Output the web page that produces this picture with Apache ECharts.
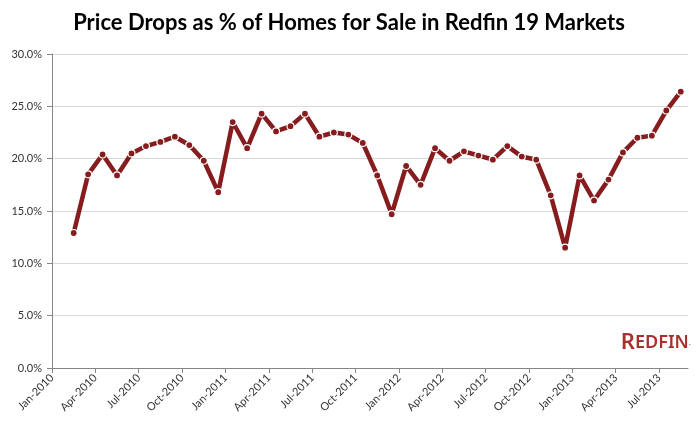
<!DOCTYPE html>
<html><head><meta charset="utf-8">
<script src="https://cdn.jsdelivr.net/npm/echarts@6/dist/echarts.min.js"></script>
<style>html,body{margin:0;padding:0;background:#fff}#c{width:698px;height:431px}</style>
</head><body><div id="c"></div>
<script>
// Monthly categories Jan-2010 .. Aug-2013 (first month has no data)
const months = ['Jan','Feb','Mar','Apr','May','Jun','Jul','Aug','Sep','Oct','Nov','Dec'];
const categories = [];
for (let y = 2010; y <= 2013; y++) for (let m = 0; m < 12; m++) {
  if (y === 2013 && m > 7) break;
  categories.push(months[m] + '-' + y);
}
// Price drops as share of homes for sale (%), Jan-2010 .. Aug-2013
const priceDrops = [null,
  12.9, 18.5, 20.4, 18.4, 20.5, 21.2, 21.6, 22.1, 21.3, 19.8, 16.8,
  23.5, 21.0, 24.3, 22.6, 23.1, 24.3, 22.1, 22.5, 22.3, 21.5, 18.4, 14.7,
  19.3, 17.5, 21.0, 19.8, 20.7, 20.3, 19.9, 21.2, 20.2, 19.9, 16.5, 11.5,
  18.4, 16.0, 18.0, 20.6, 22.0, 22.2, 24.6, 26.4];
const yTicks = [0, 5, 10, 15, 20, 25, 30];

const chart = echarts.init(document.getElementById('c'));
const data = [];
priceDrops.forEach((v, i) => { if (v !== null) data.push([i + 0.5, v]); });

chart.setOption({
  animation: false,
  title: {
    text: 'Price Drops as % of Homes for Sale in Redfin 19 Markets',
    left: 'center', top: 7,
    textStyle: { fontFamily: 'Lato', fontWeight: 'bold', fontSize: 22, color: '#000' }
  },
  grid: { left: 52, right: 10, top: 54, bottom: 63 },
  xAxis: {
    type: 'value', min: 0, max: categories.length, interval: 3,
    splitLine: { show: false },
    axisLine: { show: true, lineStyle: { color: '#868686', width: 1 } },
    axisTick: { show: true, length: 5, lineStyle: { color: '#868686' } },
    axisLabel: {
      rotate: 45, margin: 8, fontFamily: 'Lato', fontSize: 11, color: '#333',
      showMaxLabel: false,
      formatter: v => (v % 3 === 0 && categories[v]) ? categories[v] : ''
    }
  },
  yAxis: {
    type: 'value', min: 0, max: 30, interval: 5,
    axisLine: { show: true, lineStyle: { color: '#868686', width: 1 } },
    axisTick: { show: true, length: 5, lineStyle: { color: '#868686' } },
    splitLine: { lineStyle: { color: '#d9d9d9', width: 1 } },
    axisLabel: {
      margin: 10, fontFamily: 'Lato', fontSize: 11, color: '#333',
      formatter: v => yTicks.includes(v) ? v.toFixed(1) + '%' : ''
    }
  },
  series: [{
    type: 'line', data: data,
    lineStyle: { color: '#861c1e', width: 4.5 },
    symbol: 'circle', symbolSize: 7,
    itemStyle: { color: '#861c1e', borderColor: '#fff', borderWidth: 1.2 }
  }],
  graphic: [{
    type: 'text', right: 7, top: 332,
    style: {
      text: '{a|R}{b|EDFIN}{c|.}',
      rich: {
        a: { fontFamily: 'Noto Sans', fontWeight: 600, fontSize: 22, fill: '#a8312e' },
        b: { fontFamily: 'Noto Sans', fontWeight: 600, fontSize: 18, fill: '#a8312e' },
        c: { fontFamily: 'Noto Sans', fontSize: 8, fill: '#a8312e' }
      }
    }
  }]
});
</script></body></html>
